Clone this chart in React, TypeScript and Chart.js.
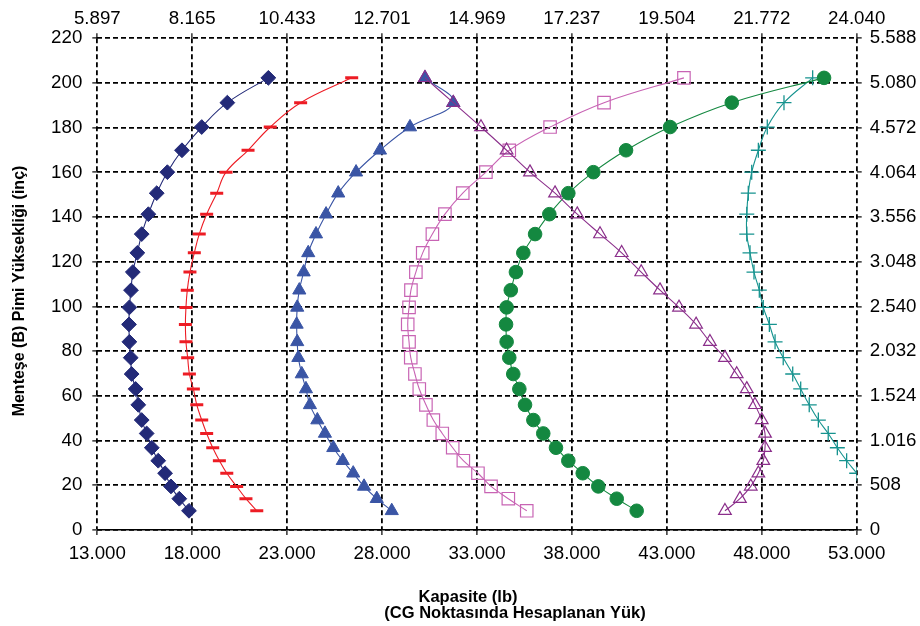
import React, { useEffect, useRef } from 'react';
import { Chart, registerables } from 'chart.js';

Chart.register(...registerables);

// Pin height B (inch) for every measured point
const heights = [8.6, 14.0, 19.5, 25.4, 31.0, 36.8, 43.2, 49.2, 56.0, 63.1, 69.8, 77.1, 84.2, 92.0, 99.6, 107.3, 115.4, 124.0, 132.4, 141.3, 150.7, 160.1, 169.9, 180.3, 191.2, 202.3];

// Capacity (lb) per series
const seriesDiamond = [17830, 17320, 16880, 16570, 16210, 15870, 15600, 15340, 15160, 15020, 14810, 14760, 14690, 14670, 14690, 14775, 14870, 15110, 15340, 15690, 16130, 16690, 17460, 18500, 19850, 22010];
const seriesDash = [21400, 20830, 20340, 19820, 19430, 19080, 18760, 18500, 18240, 18060, 17850, 17760, 17670, 17640, 17670, 17740, 17880, 18110, 18370, 18760, 19290, 19780, 20940, 22110, 23710, 26400];
const seriesTriangle = [28510, 27720, 27050, 26480, 25930, 25430, 24990, 24590, 24200, 23990, 23770, 23590, 23530, 23500, 23530, 23640, 23870, 24110, 24520, 25050, 25690, 26630, 27890, 29470, 31750, 30260];
const seriesOpenTriangle = [46060, 46850, 47420, 47820, 48080, 48170, 48170, 48000, 47640, 47210, 46680, 46060, 45270, 44540, 43640, 42640, 41650, 40620, 39480, 38280, 37110, 35790, 34560, 33210, 31750, 30260];
const seriesSquare = [35620, 34650, 33740, 33050, 32280, 31720, 31170, 30700, 30310, 29960, 29730, 29510, 29420, 29350, 29420, 29520, 29780, 30140, 30650, 31310, 32250, 33470, 34700, 36850, 39690, 43900];
const seriesCircle = [41410, 40360, 39390, 38570, 37810, 37160, 36490, 35970, 35530, 35230, 34910, 34700, 34560, 34530, 34560, 34780, 35050, 35440, 36060, 36810, 37810, 39130, 40850, 43170, 46420, 51280];
const seriesPlus = [null, null, null, 53000, 52470, 51980, 51500, 50980, 50500, 50050, 49630, 49130, 48700, 48400, 48080, 47870, 47590, 47380, 47210, 47210, 47290, 47470, 47820, 48290, 49170, 50680];

// Axis ticks
const xTicks = [13000, 18000, 23000, 28000, 33000, 38000, 43000, 48000, 53000];
const yMin = 0;
const yMax = 220;
const yStep = 20;
const LB_TO_KG = 0.45359237;
const IN_TO_MM = 25.4;

const yTitle = 'Menteşe (B) Pimi Yüksekliği (inç)';
const xTitle1 = 'Kapasite (lb)';
const xTitle2 = '(CG Noktasında Hesaplanan Yük)';

const fmt = (n: number) => Math.round(n).toString().replace(/\B(?=(\d{3})+(?!\d))/g, '.');

const FAMILY = "'Liberation Sans', Arial, sans-serif";

export default function App() {
  const ref = useRef<HTMLCanvasElement>(null);

  useEffect(() => {
    const canvas = ref.current;
    if (!canvas) return;
    const tickFont = { family: FAMILY, size: 18.7 };

    const mk = (vals: (number | null)[], color: string, style: any, radius: number, filled: boolean, bw: number) => ({
      data: heights.map((h, i) => ({ x: vals[i], y: h })).filter((p) => p.x != null),
      showLine: true,
      borderColor: color,
      borderWidth: 1.1,
      tension: 0.4,
      pointStyle: style,
      pointRadius: radius,
      pointHoverRadius: radius,
      pointBackgroundColor: filled ? color : 'rgba(0,0,0,0)',
      pointBorderColor: color,
      pointBorderWidth: bw,
      xAxisID: 'x',
      yAxisID: 'y',
    });

    const titles = {
      id: 'titles',
      afterDraw(chart: any) {
        const c = chart.ctx;
        c.save();
        c.fillStyle = '#000';
        c.font = `bold 16.5px ${FAMILY}`;
        c.textAlign = 'center';
        c.textBaseline = 'middle';
        c.fillText(xTitle1, 468, 597);
        c.fillText(xTitle2, 515, 613);
        c.font = `bold 16px ${FAMILY}`;
        c.translate(20, 291);
        c.rotate(-Math.PI / 2);
        c.fillText(yTitle, 0, 0);
        c.restore();
      },
    };

    const gridCommon = {
      color: '#000',
      lineWidth: 1.8,
      tickLength: 5,
      tickColor: '#000',
      tickWidth: 1.2,
      tickBorderDash: [],
    };

    const chart = new Chart(canvas, {
      type: 'scatter',
      data: {
        datasets: [
          mk(seriesOpenTriangle, '#8B2F8B', 'triangle', 7.3, false, 1.2),
          mk(seriesSquare, '#C864B4', 'rect', 8.8, false, 1.2),
          mk(seriesCircle, '#148840', 'circle', 6.8, true, 1),
          mk(seriesPlus, '#16938F', 'cross', 7.5, false, 1.3),
          mk(seriesTriangle, '#3A55A5', 'triangle', 7.6, true, 1),
          mk(seriesDash, '#ED1C24', 'line', 6.5, true, 3),
          mk(seriesDiamond, '#232A78', 'rectRot', 7.4, true, 1),
        ] as any,
      },
      options: {
        animation: false,
        responsive: true,
        maintainAspectRatio: false,
        events: [],
        layout: { padding: 0 },
        plugins: { legend: { display: false }, tooltip: { enabled: false }, title: { display: false } },
        scales: {
          x: {
            type: 'linear',
            position: 'bottom',
            display: true,
            min: xTicks[0],
            max: xTicks[xTicks.length - 1],
            afterBuildTicks: (s: any) => { s.ticks = xTicks.map((v) => ({ value: v })); },
            afterFit: (s: any) => { s.height = 96; },
            ticks: { font: tickFont, color: '#000', padding: 8, maxRotation: 0, autoSkip: false, callback: (v: any) => fmt(Number(v)) },
            grid: { ...gridCommon },
            border: { display: true, color: '#000', width: 1.5, dash: [5, 3] },
          },
          x2: {
            type: 'linear',
            position: 'top',
            display: true,
            min: xTicks[0],
            max: xTicks[xTicks.length - 1],
            afterBuildTicks: (s: any) => { s.ticks = xTicks.map((v) => ({ value: v })); },
            afterFit: (s: any) => { s.height = 38.3; },
            ticks: { font: tickFont, color: '#000', padding: 3, maxRotation: 0, autoSkip: false, callback: (v: any) => fmt(Number(v) * LB_TO_KG) },
            grid: { ...gridCommon, drawOnChartArea: false },
            border: { display: false },
          },
          y: {
            type: 'linear',
            position: 'left',
            display: true,
            min: yMin,
            max: yMax,
            afterFit: (s: any) => { s.width = 97.3; },
            ticks: { font: tickFont, color: '#000', padding: 10, stepSize: yStep, callback: (v: any) => String(v) },
            grid: { ...gridCommon },
            border: { display: false, dash: [5, 3] },
          },
          y2: {
            type: 'linear',
            position: 'right',
            display: true,
            min: yMin,
            max: yMax,
            afterFit: (s: any) => { s.width = 63.3; },
            ticks: { font: tickFont, color: '#000', padding: 8, stepSize: yStep, callback: (v: any) => fmt(Number(v) * IN_TO_MM) },
            grid: { ...gridCommon, drawOnChartArea: false },
            border: { display: false },
          },
        },
      } as any,
      plugins: [titles],
    });

    return () => chart.destroy();
  }, []);

  return (
    <div style={{ position: 'fixed', left: 0, top: 0, width: 920, height: 626, background: '#fff' }}>
      <canvas ref={ref} />
    </div>
  );
}
